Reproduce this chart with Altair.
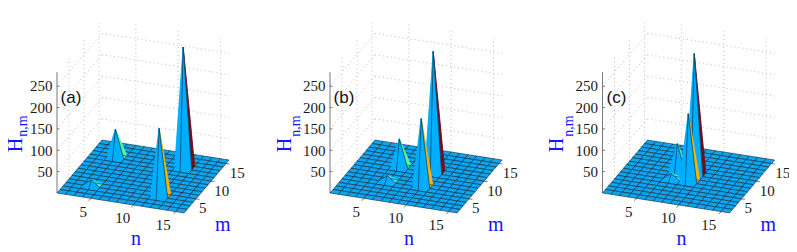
import altair as alt

# values
panel_labels = ["(a)", "(b)", "(c)"]
peak_n = [[12, 12, 4, 4], [10, 10, 6, 6], [9, 9, 7, 7]]
peak_m = [[12, 4, 12, 4], [10, 6, 10, 6], [9, 7, 9, 7]]
peak_h = [285, 161, 68, 15]
peak_colors = ["#7a0a12", "#ffb000", "#5cf59a", "#2ff0e0"]
z_ticks = [50, 100, 150, 200, 250]
nm_ticks = [5, 10, 15]
grid_max = 16
z_top = 283

# layout of the oblique view, in page pixels
X0, Y0 = 57.0, 193.0
NX, NY = 8.47, 1.33
MX, MY = 3.0, -3.53
ZK = 0.427
panel_dx = [0.0, 273.0, 545.5]
h_title_dx = [4.5, 0.0, 0.0]
FLOOR = "#0ca6f0"
SPIKE = "#00aeff"
EDGE = "#10263c"
DOT = "#bdbdbd"
BLUE = "#1414ff"
SHARP = 30


def proj(p, n, m, z=0.0):
    return [X0 + panel_dx[p] + NX * (n - 1) + MX * (m - 1),
            Y0 + NY * (n - 1) + MY * (m - 1) - ZK * z]


def line(p0, p1):
    return {"type": "Feature", "properties": {},
            "geometry": {"type": "LineString", "coordinates": [p0, p1]}}


def poly(ring, fill, stroke):
    return {"type": "Feature", "properties": {"c": fill, "s": stroke},
            "geometry": {"type": "Polygon", "coordinates": [ring]}}


def seg(p0, p1):
    return {"type": "Feature", "properties": {"c": "transparent", "s": EDGE},
            "geometry": {"type": "LineString", "coordinates": [p0, p1]}}


quads, dots, axes, texts = [], [], [], []
for p in range(3):
    H = {(n, m): h for n, m, h in zip(peak_n[p], peak_m[p], peak_h)}
    C = {(n, m): c for n, m, c in zip(peak_n[p], peak_m[p], peak_colors)}
    for m in range(grid_max - 1, 0, -1):
        for n in range(1, grid_max):
            corners = [(n, m), (n + 1, m), (n + 1, m + 1), (n, m + 1)]
            pts = [proj(p, a, b, H.get((a, b), 0)) for a, b in corners]
            tall = [c for c in corners if H.get(c, 0) > 0]
            if not tall:
                quads.append(poly(pts + pts[:1], FLOOR, EDGE))
                continue
            tip = tall[0]
            if (n, m) == tip:
                # the coloured face: its nearer half shows as a sliver right of the spike
                col = C[tip]
                quads.append(poly([pts[0], pts[2], pts[3], pts[0]], col, col))
                quads.append(poly([pts[0], pts[1], pts[2], pts[0]], col, col))
            else:
                quads.append(poly(pts + pts[:1], SPIKE, SPIKE))
            # floor edges of the face
            for i in range(4):
                a, b = corners[i], corners[(i + 1) % 4]
                if a != tip and b != tip:
                    quads.append(seg(pts[i], pts[(i + 1) % 4]))
            # the edges of the spike that show as dark lines
            if (n, m + 1) == tip:
                quads.append(seg(pts[3], pts[0]))
                quads.append(seg(pts[3], pts[2]))
            if (n + 1, m + 1) == tip and H[tip] < SHARP:
                quads.append(seg(pts[2], pts[3]))
    # dotted walls
    for z in z_ticks:
        dots.append(line(proj(p, 1, 1, z), proj(p, 1, grid_max, z)))
        dots.append(line(proj(p, 1, grid_max, z), proj(p, grid_max, grid_max, z)))
    for t in nm_ticks:
        dots.append(line(proj(p, 1, t), proj(p, 1, t, z_top)))
        dots.append(line(proj(p, t, grid_max), proj(p, t, grid_max, z_top)))
    # solid axis and ticks
    axes.append(line(proj(p, 1, 1), proj(p, 1, 1, z_top)))
    for z in z_ticks:
        a = proj(p, 1, 1, z)
        axes.append(line(a, [a[0] + 2.5, a[1]]))
        texts.append({"x": a[0] - 4.5, "y": a[1] + 0.2, "t": str(z), "font": "Liberation Serif",
                      "size": 15, "color": "#1a1a1a", "align": "right", "angle": 0})
    for t, dx in zip(nm_ticks, [-7.6, -10.5, -12.3]):
        a = proj(p, t, 1)
        axes.append(line(a, proj(p, t, 0.3)))
        texts.append({"x": a[0] + dx, "y": a[1] + 13.2, "t": str(t), "font": "Liberation Serif",
                      "size": 15, "color": "#1a1a1a", "align": "center", "angle": 0})
    for t, dx in zip(nm_ticks, [6.7, 10.7, 11.3]):
        a = proj(p, grid_max, t)
        axes.append(line(a, proj(p, grid_max + 0.4, t)))
        texts.append({"x": a[0] + dx, "y": a[1] + 9.4, "t": str(t), "font": "Liberation Serif",
                      "size": 15, "color": "#1a1a1a", "align": "center", "angle": 0})
    ox = X0 + panel_dx[p]
    texts.append({"x": ox + 79, "y": 238.5, "t": "n", "font": "Liberation Serif", "size": 20,
                  "color": BLUE, "align": "center", "angle": 0})
    texts.append({"x": ox + 165.7, "y": 225, "t": "m", "font": "Liberation Serif", "size": 20,
                  "color": BLUE, "align": "center", "angle": 0})
    texts.append({"x": ox - 45.3 + h_title_dx[p], "y": 145, "t": "H", "font": "Liberation Serif", "size": 20,
                  "color": BLUE, "align": "center", "angle": 270})
    texts.append({"x": ox - 34, "y": 126, "t": "n,m", "font": "Liberation Serif", "size": 14,
                  "color": BLUE, "align": "center", "angle": 270})
    texts.append({"x": ox + 14, "y": 98.3, "t": panel_labels[p], "font": "Liberation Sans", "size": 17,
                  "color": "#111111", "align": "center", "angle": 0})

projection = dict(type="identity", scale=1, translate=[-8, -8])

dot_layer = alt.Chart(alt.Data(values=dots)).mark_geoshape(
    filled=False, stroke=DOT, strokeWidth=1, strokeDash=[1, 3]).project(**projection)
axis_layer = alt.Chart(alt.Data(values=axes)).mark_geoshape(
    filled=False, stroke="#777777", strokeWidth=1).project(**projection)
quad_layer = alt.Chart(alt.Data(values=quads)).mark_geoshape(
    strokeWidth=0.6).encode(
    fill=alt.Fill("properties.c:N", scale=None),
    stroke=alt.Stroke("properties.s:N", scale=None)).project(**projection)

text_layers = []
keys = sorted({(d["font"], d["size"], d["color"], d["align"], d["angle"]) for d in texts})
for font, size, color, align, angle in keys:
    rows = [d for d in texts
            if (d["font"], d["size"], d["color"], d["align"], d["angle"]) == (font, size, color, align, angle)]
    text_layers.append(
        alt.Chart(alt.Data(values=rows)).mark_text(
            font=font, fontSize=size, color=color, align=align, baseline="middle", angle=angle
        ).encode(longitude="x:Q", latitude="y:Q", text="t:N").project(**projection)
    )

chart = alt.layer(dot_layer, axis_layer, quad_layer, *text_layers).properties(
    width=781, height=243, padding=0,
    autosize=alt.AutoSizeParams(type="none")
).configure_view(strokeWidth=0)

chart.save("out.html", embed_options={"renderer": "svg", "actions": False})
